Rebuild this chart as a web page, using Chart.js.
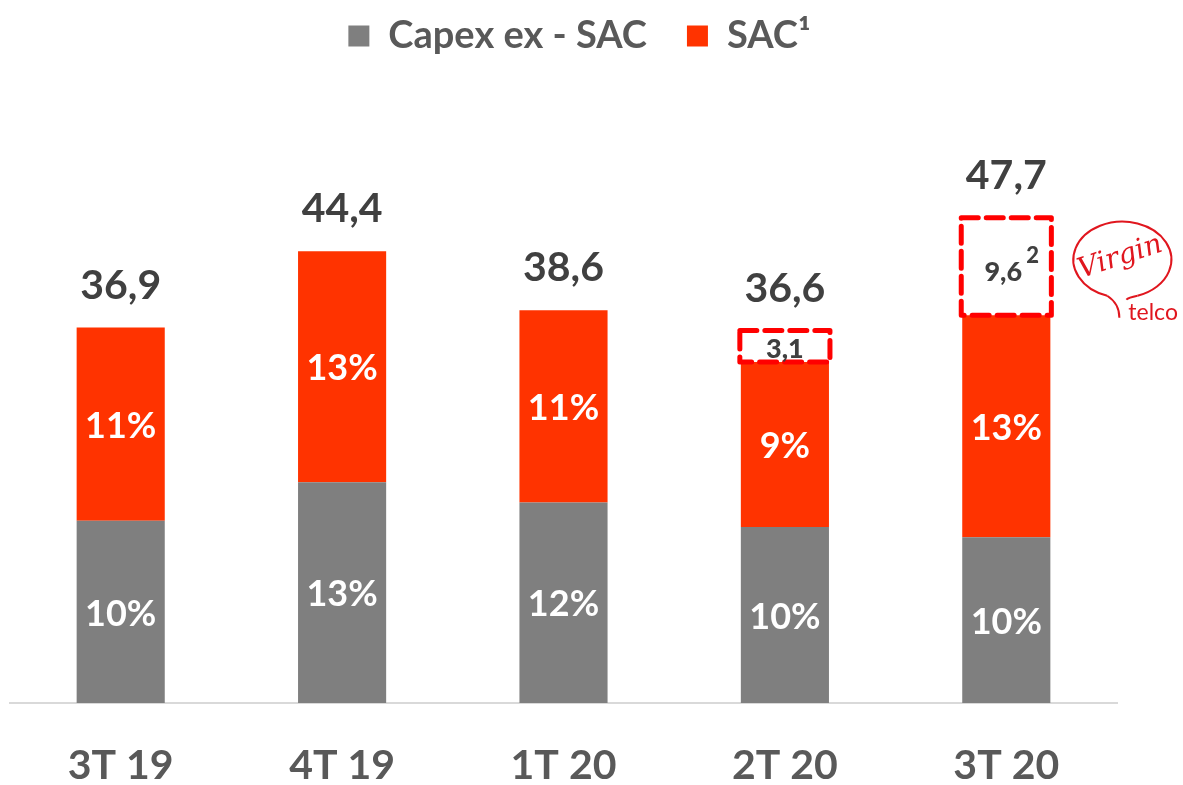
<!DOCTYPE html>
<html>
<head>
<meta charset="utf-8">
<script src="https://cdn.jsdelivr.net/npm/chart.js@4.4.1/dist/chart.umd.min.js"></script>
<style>
  html, body { margin: 0; padding: 0; background: #ffffff; }
  #wrap { width: 1183px; height: 785px; position: relative; }
</style>
</head>
<body>
<div id="wrap"><canvas id="c" width="1183" height="785"></canvas></div>
<script>
// ---- Data ----
const categories = ['3T 19', '4T 19', '1T 20', '2T 20', '3T 20'];
const capexExSac = [17.9, 21.7, 19.7, 17.3, 16.3];
const sac = [19.0, 22.7, 18.9, 16.2, 21.8];
const virginExtra = [null, null, null, 3.1, 9.6];
const capexPctLabels = ['10%', '13%', '12%', '10%', '10%'];
const sacPctLabels = ['11%', '13%', '11%', '9%', '13%'];
const extraSuperscripts = ['', '', '', '', '2'];
const legendNames = ['Capex ex - SAC', 'SAC\u00B9'];

const GRAY = '#7f7f7f';
const RED = '#ff3300';
const DASH_RED = '#ff0000';
const TXT_DARK = '#404040';
const TXT_MID = '#595959';
const FONT = "Lato, 'Open Sans', sans-serif";

function fmt(v) { return v.toFixed(1).replace('.', ','); }

const legendShift = {
  id: 'legendShift',
  afterLayout(chart) {
    if (chart.legend) { chart.legend.left += 16; chart.legend.right += 16; }
  }
};

const labelsPlugin = {
  id: 'labelsPlugin',
  afterDatasetsDraw(chart) {
    const ctx = chart.ctx;
    const m0 = chart.getDatasetMeta(0);
    const m1 = chart.getDatasetMeta(1);
    const m2 = chart.getDatasetMeta(2);
    ctx.save();
    // percentages inside segments
    ctx.fillStyle = '#ffffff';
    ctx.font = "bold 36px " + FONT;
    ctx.textAlign = 'center';
    ctx.textBaseline = 'middle';
    m0.data.forEach((el, i) => {
      ctx.fillText(capexPctLabels[i], el.x, (el.y + el.base) / 2 + 2);
    });
    m1.data.forEach((el, i) => {
      ctx.fillText(sacPctLabels[i], el.x, (el.y + el.base) / 2 + 2);
    });
    // dashed boxes
    m2.data.forEach((el, i) => {
      if (virginExtra[i] == null) return;
      const half = el.width / 2;
      ctx.save();
      ctx.strokeStyle = DASH_RED;
      ctx.lineWidth = 5;
      ctx.setLineDash([17, 8]);
      ctx.lineJoin = 'round';
      ctx.lineCap = 'round';
      ctx.strokeRect(el.x - half - 1, el.y, el.width + 2, el.base - el.y);
      ctx.restore();
      ctx.fillStyle = TXT_DARK;
      ctx.font = "900 27px " + FONT;
      ctx.textAlign = 'center';
      ctx.textBaseline = 'middle';
      const cy = (el.y + el.base) / 2 + 3;
      const t = fmt(virginExtra[i]);
      if (extraSuperscripts[i]) {
        const w = ctx.measureText(t).width;
        ctx.fillText(t, el.x - 3, cy + 3);
        ctx.font = "900 22px " + FONT;
        ctx.textAlign = 'left';
        ctx.fillText(extraSuperscripts[i], el.x - 3 + w / 2 + 4, cy - 14);
      } else {
        ctx.fillText(t, el.x, cy);
      }
    });
    // totals
    ctx.fillStyle = TXT_DARK;
    ctx.font = "bold 41px " + FONT;
    ctx.textAlign = 'center';
    ctx.textBaseline = 'alphabetic';
    categories.forEach((c, i) => {
      const total = capexExSac[i] + sac[i] + (virginExtra[i] || 0);
      let top = m1.data[i].y;
      if (virginExtra[i] != null) top = m2.data[i].y;
      ctx.fillText(fmt(total), m1.data[i].x, top - 29);
    });
    // Virgin telco logo next to last box
    const last = m2.data[m2.data.length - 1];
    const lx = last.x + last.width / 2 + 72;
    const ly = last.y + 42;
    ctx.strokeStyle = '#e0161e';
    ctx.fillStyle = '#e0161e';
    ctx.lineWidth = 2;
    ctx.setLineDash([]);
    ctx.beginPath();
    ctx.ellipse(lx, ly, 49, 38, 0, Math.PI * 0.60, Math.PI * 2.40, false);
    ctx.stroke();
    ctx.beginPath();
    const sx = lx + 49 * Math.cos(Math.PI * 0.60);
    const sy = ly + 38 * Math.sin(Math.PI * 0.60);
    ctx.moveTo(sx, sy);
    ctx.quadraticCurveTo(lx - 3, ly + 44, lx - 3, ly + 58);
    ctx.stroke();
    ctx.beginPath();
    const ex = lx + 49 * Math.cos(Math.PI * 2.40);
    const ey = ly + 38 * Math.sin(Math.PI * 2.40);
    ctx.moveTo(ex, ey);
    ctx.quadraticCurveTo(lx + 6, ly + 38, lx + 4, ly + 40);
    ctx.stroke();
    ctx.save();
    ctx.translate(lx - 2, ly - 2);
    ctx.rotate(-0.32);
    ctx.font = "italic 28px 'DejaVu Serif', serif";
    ctx.textAlign = 'center';
    ctx.textBaseline = 'middle';
    ctx.fillText('Virgin', 0, 0);
    ctx.restore();
    ctx.font = "23px " + FONT;
    ctx.textAlign = 'left';
    ctx.textBaseline = 'alphabetic';
    ctx.fillText('telco', lx + 6, ly + 60);
    ctx.restore();
  }
};

new Chart(document.getElementById('c'), {
  type: 'bar',
  data: {
    labels: categories,
    datasets: [
      { label: legendNames[0], data: capexExSac, backgroundColor: GRAY, borderWidth: 0,
        barPercentage: 0.398, categoryPercentage: 1 },
      { label: legendNames[1], data: sac, backgroundColor: RED, borderWidth: 0,
        barPercentage: 0.398, categoryPercentage: 1 },
      { label: 'extra', data: virginExtra, backgroundColor: '#ffffff', borderWidth: 0,
        barPercentage: 0.398, categoryPercentage: 1 }
    ]
  },
  options: {
    responsive: false,
    animation: false,
    devicePixelRatio: 1,
    layout: { padding: { left: 10, right: 66, top: -23, bottom: 0 } },
    plugins: {
      legend: {
        display: true,
        position: 'top',
        labels: {
          filter: (item) => item.datasetIndex < 2,
          boxWidth: 21,
          boxHeight: 21,
          padding: 40,
          color: TXT_MID,
          font: { family: FONT, size: 38, weight: 'bold' }
        }
      },
      tooltip: { enabled: false }
    },
    scales: {
      x: {
        stacked: true,
        grid: { display: false, drawTicks: false },
        border: { display: true, color: '#d9d9d9', width: 2 },
        ticks: { color: TXT_MID, font: { family: FONT, size: 41, weight: 'bold' }, padding: 38 },
        afterFit: (scale) => { scale.height = 82; }
      },
      y: {
        stacked: true,
        display: false,
        min: 0,
        max: 62.7
      }
    }
  },
  plugins: [legendShift, labelsPlugin]
});
</script>
</body>
</html>
